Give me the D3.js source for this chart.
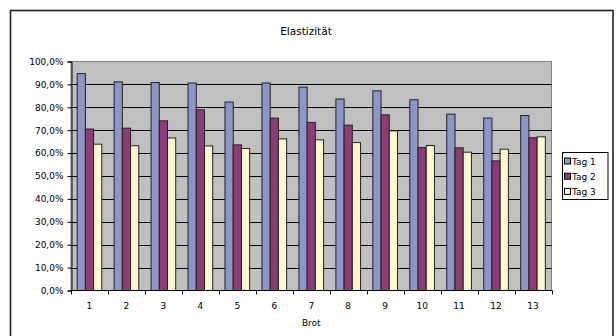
<!DOCTYPE html>
<html><head><meta charset="utf-8">
<script src="https://cdn.jsdelivr.net/npm/d3@7"></script>
<style>html,body{margin:0;padding:0;background:#fff;}svg{display:block;}</style>
</head><body>
<svg id="c" width="616" height="336"></svg>
<script>
const categories = ["1","2","3","4","5","6","7","8","9","10","11","12","13"];
const seriesNames = ["Tag 1","Tag 2","Tag 3"];
const tag1 = [0.947,0.911,0.908,0.906,0.823,0.906,0.888,0.836,0.872,0.833,0.770,0.753,0.764];
const tag2 = [0.705,0.709,0.741,0.789,0.636,0.753,0.734,0.722,0.767,0.624,0.623,0.566,0.667];
const tag3 = [0.639,0.632,0.666,0.631,0.620,0.662,0.658,0.646,0.697,0.633,0.604,0.617,0.671];
const yTicks = [0,0.1,0.2,0.3,0.4,0.5,0.6,0.7,0.8,0.9,1.0];
const colors = ["#8C96C8","#8E3B76","#FFF9CE"];
const series = [tag1, tag2, tag3];

const svg = d3.select("#c");
const font = "'DejaVu Sans', sans-serif";

// outer frame
svg.append("rect").attr("x",10.5).attr("y",10.5).attr("width",602.5).attr("height",330)
  .attr("fill","#fff").attr("stroke","#222").attr("stroke-width",1.6);

const L = 71, R = 551.5, T = 61.5, B = 290.5;
const x = d3.scaleBand().domain(categories).range([L, R]).paddingInner(0).paddingOuter(0);
const y = d3.scaleLinear().domain([0,1]).range([B, T]);

// plot bg
svg.append("rect").attr("x",L).attr("y",T).attr("width",R-L).attr("height",B-T)
  .attr("fill","#C0C0C0").attr("stroke","#808080").attr("stroke-width",1);

// gridlines
svg.append("g").selectAll("line").data(yTicks.filter(d=>d>0 && d<1)).join("line")
  .attr("x1",L).attr("x2",R).attr("y1",d=>Math.round(y(d))+0.5).attr("y2",d=>Math.round(y(d))+0.5)
  .attr("stroke","#000").attr("stroke-width",1);

// bars
const bw = x.bandwidth()/4.5;
series.forEach((vals, si) => {
  svg.append("g").selectAll("rect").data(vals).join("rect")
    .attr("x",(d,i)=>x(categories[i]) + 0.75*bw + si*bw)
    .attr("y",d=>y(d))
    .attr("width",bw)
    .attr("height",d=>B-y(d))
    .attr("fill",colors[si]).attr("stroke","#222").attr("stroke-width",1);
});

// y axis
const yAxis = d3.axisLeft(y).tickValues(yTicks).tickSize(4).tickPadding(4)
  .tickFormat(d => d3.format(".1f")(d*100).replace(".",",") + "%");
const gy = svg.append("g").attr("transform",`translate(${L+0.5},0)`).call(yAxis);
gy.selectAll("text").attr("font-family",font).attr("font-size",9).attr("fill","#000");
gy.selectAll("line,path").attr("stroke","#000");

// x axis
const gx = svg.append("g").attr("transform",`translate(0,${B})`);
gx.append("line").attr("x1",L).attr("x2",R+1).attr("y1",0).attr("y2",0).attr("stroke","#000");
gx.selectAll("line.t").data(d3.range(categories.length+1)).join("line").attr("class","t")
  .attr("x1",i=>Math.round(L + i*x.step())+0.5).attr("x2",i=>Math.round(L + i*x.step())+0.5)
  .attr("y1",0).attr("y2",4).attr("stroke","#000");
gx.selectAll("text").data(categories).join("text")
  .attr("x",d=>x(d)+x.bandwidth()/2).attr("y",18)
  .attr("text-anchor","middle").attr("font-family",font).attr("font-size",9).text(d=>d);

svg.append("text").attr("x",(L+R)/2).attr("y",326).attr("text-anchor","middle")
  .attr("font-family",font).attr("font-size",9).text("Brot");

svg.append("text").attr("x",306).attr("y",35).attr("text-anchor","middle")
  .attr("font-family",font).attr("font-size",10.5).text("Elastizität");

// legend
const lg = svg.append("g");
lg.append("rect").attr("x",562.5).attr("y",152.5).attr("width",45.5).attr("height",47)
  .attr("fill","#fff").attr("stroke","#000").attr("stroke-width",1);
seriesNames.forEach((n,i)=>{
  const cy = 161 + i*15.2;
  lg.append("rect").attr("x",564.5).attr("y",cy-3).attr("width",6).attr("height",6)
    .attr("fill",colors[i]).attr("stroke","#000").attr("stroke-width",1);
  lg.append("text").attr("x",572).attr("y",cy+3.5).attr("font-family",font).attr("font-size",9).text(n);
});
</script>
</body></html>
